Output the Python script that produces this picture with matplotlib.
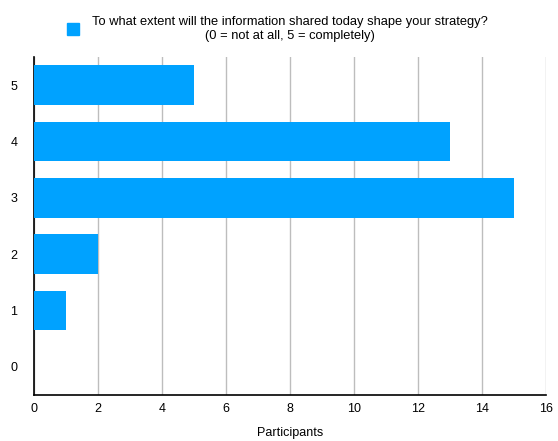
import matplotlib.pyplot as plt
from matplotlib.patches import Patch

ratings = ["0", "1", "2", "3", "4", "5"]
participants = [0, 1, 2, 15, 13, 5]
x_ticks = [0, 2, 4, 6, 8, 10, 12, 14, 16]

question = ("To what extent will the information shared today shape your strategy?\n"
            "(0 = not at all, 5 = completely)")

plt.rcParams["font.family"] = ["Liberation Sans", "DejaVu Sans"]

fig = plt.figure(figsize=(5.58, 4.41), dpi=100)
ax = fig.add_axes([0.061, 0.104, 0.9175, 0.767])

bar_color = "#00A2FF"
ax.barh(range(len(ratings)), participants, height=0.7, color=bar_color, zorder=3)

ax.set_ylim(-0.5, 5.5)
ax.set_xlim(0, 16)
ax.set_yticks(range(len(ratings)))
ax.set_yticklabels(ratings)
ax.set_xticks(x_ticks)
ax.tick_params(length=0, labelsize=9)
ax.tick_params(axis="x", pad=6)
ax.tick_params(axis="y", pad=12)
ax.grid(axis="x", color="#bdbdbd", linewidth=1, zorder=0)
for s in ["top", "right"]:
    ax.spines[s].set_visible(False)
ax.spines["left"].set_linewidth(1.2)
ax.spines["bottom"].set_linewidth(1.2)
ax.set_xlabel("Participants", fontsize=9, labelpad=8)

leg = fig.legend(handles=[Patch(color=bar_color)], labels=[question],
                 loc="upper center", bbox_to_anchor=(0.497, 0.99), frameon=False,
                 fontsize=9.3, handlelength=1.0, handleheight=1.0, handletextpad=1.0)
for t in leg.get_texts():
    t.set_multialignment("center")

fig.savefig("out.png", dpi=100)
